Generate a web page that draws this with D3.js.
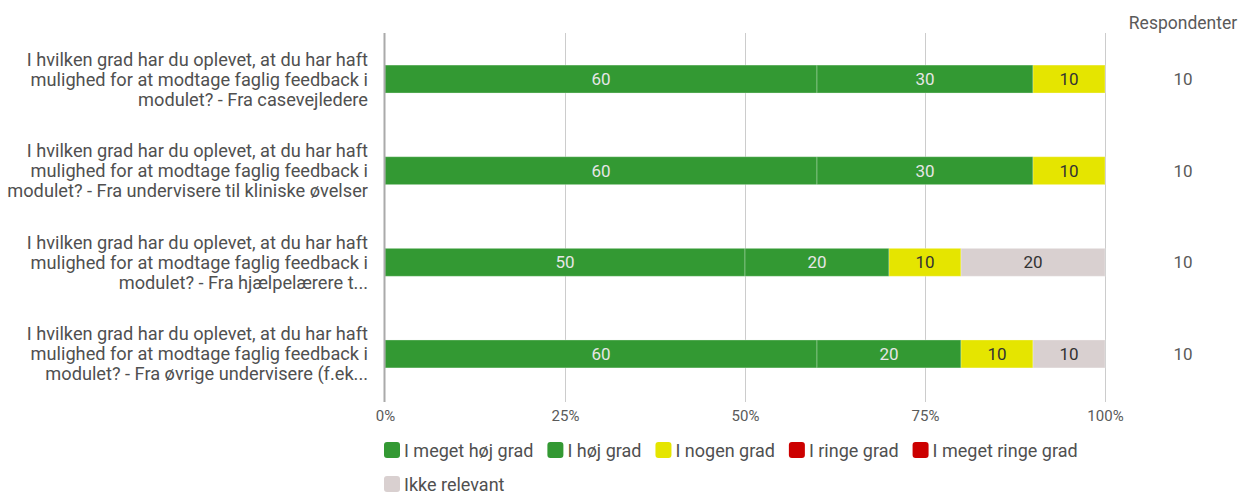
<!DOCTYPE html>
<html><head><meta charset="utf-8">
<script src="https://cdn.jsdelivr.net/npm/d3@7"></script>
<style>body{margin:0;background:#fff;font-family:Roboto,sans-serif;}</style>
</head><body><svg id="c" width="1253" height="494"></svg>
<script>
const categories = [
  ["I hvilken grad har du oplevet, at du har haft","mulighed for at modtage faglig feedback i","modulet? - Fra casevejledere"],
  ["I hvilken grad har du oplevet, at du har haft","mulighed for at modtage faglig feedback i","modulet? - Fra undervisere til kliniske øvelser"],
  ["I hvilken grad har du oplevet, at du har haft","mulighed for at modtage faglig feedback i","modulet? - Fra hjælpelærere t..."],
  ["I hvilken grad har du oplevet, at du har haft","mulighed for at modtage faglig feedback i","modulet? - Fra øvrige undervisere (f.ek..."]
];
const seriesNames = ["I meget høj grad","I høj grad","I nogen grad","I ringe grad","I meget ringe grad","Ikke relevant"];
const meget_hoej = [60,60,50,60];
const hoej = [30,30,20,20];
const nogen = [10,10,10,10];
const ringe = [0,0,0,0];
const meget_ringe = [0,0,0,0];
const ikke_relevant = [0,0,20,10];
const respondenter = [10,10,10,10];
const ticks = [0,25,50,75,100];
const colors = ["#339933","#339933","#e5e500","#cc0000","#cc0000","#d9d0d0"];
const labelColors = ["#e6e6e6","#e6e6e6","#333","#fff","#fff","#333"];

const series = [meget_hoej,hoej,nogen,ringe,meget_ringe,ikke_relevant];
const svg = d3.select("#c");
const x = d3.scaleLinear().domain([0,100]).range([385,1105]);
const y = d3.scaleBand().domain(d3.range(categories.length)).range([33,400]).paddingInner(0.695).paddingOuter(0.35);

// grid
svg.append("g").selectAll("line").data(ticks.slice(1)).join("line")
  .attr("x1",d=>x(d)+0.5).attr("x2",d=>x(d)+0.5).attr("y1",33).attr("y2",402)
  .attr("stroke","#cccccc").attr("stroke-width",1);
// axis labels
const ax = d3.axisBottom(x).tickValues(ticks).tickFormat(d=>d+"%").tickSize(0);
const axg = svg.append("g").attr("transform","translate(0,404)").call(ax);
axg.select(".domain").remove();
axg.selectAll("text").attr("font-family","Roboto").attr("font-size",15).attr("fill","#5a5a5a").attr("dy","0.95em");

// bars
const stackData = categories.map((c,i)=>{let acc=0;return series.map((s,k)=>{const v=s[i];const r={i,k,x0:acc,x1:acc+v,v};acc+=v;return r;});});
const bg = svg.append("g");
stackData.forEach(row=>{
  row.filter(d=>d.v>0).forEach(d=>{
    bg.append("rect").attr("x",x(d.x0)).attr("width",x(d.x1)-x(d.x0))
      .attr("y",y(d.i)).attr("height",y.bandwidth())
      .attr("fill",colors[d.k]).attr("stroke","rgba(255,255,255,0.3)").attr("stroke-width",1);
    bg.append("text").attr("x",(x(d.x0)+x(d.x1))/2).attr("y",y(d.i)+y.bandwidth()/2)
      .attr("text-anchor","middle").attr("dominant-baseline","central")
      .attr("font-size",17).attr("fill",labelColors[d.k]).text(d.v);
  });
});
// axis line
svg.append("line").attr("x1",384.5).attr("x2",384.5).attr("y1",33).attr("y2",402).attr("stroke","#aaa").attr("stroke-width",2);

// category labels
categories.forEach((lines,i)=>{
  const cy = y(i)+y.bandwidth()/2;
  const t = svg.append("text").attr("text-anchor","end").attr("font-size",18.2).attr("fill","#505050");
  lines.forEach((l,j)=>t.append("tspan").attr("x",368).attr("y",cy+(j-1)*20).attr("dominant-baseline","central").text(l));
});

// respondenter
svg.append("text").attr("x",1183).attr("y",23).attr("text-anchor","middle").attr("dominant-baseline","central")
  .attr("font-size",17.5).attr("fill","#5a5a5a").text("Respondenter");
respondenter.forEach((r,i)=>{
  svg.append("text").attr("x",1183).attr("y",y(i)+y.bandwidth()/2).attr("text-anchor","middle").attr("dominant-baseline","central")
    .attr("font-size",17).attr("fill","#5a5a5a").text(r);
});

// legend
const leg = svg.append("g");
let lx = 384, ly = 450;
seriesNames.forEach((n,k)=>{
  if(k===5){lx=384;ly=484;}
  const g = leg.append("g").attr("transform",`translate(${lx},${ly})`);
  g.append("rect").attr("x",0).attr("y",-8).attr("width",16).attr("height",16).attr("rx",3).attr("fill",colors[k]);
  const t = g.append("text").attr("x",20).attr("y",0).attr("dominant-baseline","central").attr("font-size",18).attr("fill","#505050").text(n);
  lx += 20 + t.node().getComputedTextLength() + 14;
});
</script></body></html>
